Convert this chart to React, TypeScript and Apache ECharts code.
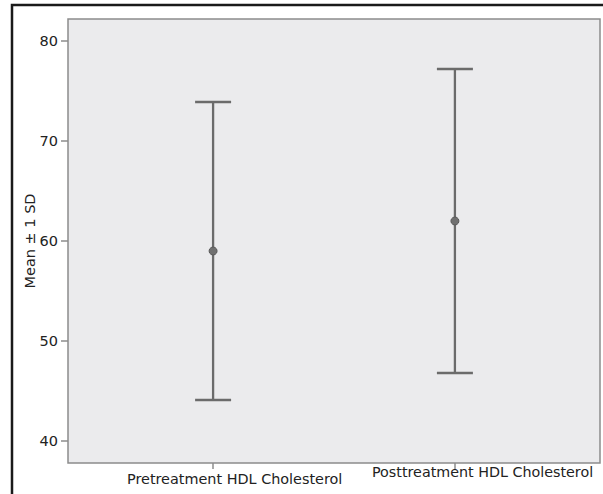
import React, { useEffect, useRef } from "react";
import * as echarts from "echarts";

const categories = ["Pretreatment HDL Cholesterol", "Posttreatment HDL Cholesterol"];
const positions = [1, 2];
const means = [59.0, 62.0];
const lows = [44.1, 46.8];
const highs = [73.9, 77.2];
const yTicks = [40, 50, 60, 70, 80];

const FONT = "DejaVu Sans, Liberation Sans, Arial, sans-serif";

export default function App() {
  const ref = useRef<HTMLDivElement>(null);
  useEffect(() => {
    if (!ref.current) return;
    const chart = echarts.init(ref.current, null, { renderer: "svg" });
    const data = positions.map((p, i) => [p, means[i], lows[i], highs[i]]);
    chart.setOption({
      animation: false,
      backgroundColor: "#ffffff",
      textStyle: { fontFamily: FONT },
      grid: {
        left: 68,
        top: 19,
        right: 3,
        bottom: 31,
        show: true,
        backgroundColor: "#ebebed",
        borderColor: "#8c8c8c",
        borderWidth: 1.5,
      },
      xAxis: {
        type: "value",
        min: 0.4,
        max: 2.6,
        splitLine: { show: false },
        axisLine: { show: false },
        axisLabel: { show: false },
        axisTick: {
          show: true,
          customValues: positions,
          length: 6,
          lineStyle: { color: "#8c8c8c", width: 1.5 },
        },
      },
      yAxis: {
        type: "value",
        min: 37.8,
        max: 82.2,
        name: "Mean ± 1 SD",
        nameLocation: "middle",
        nameGap: 31,
        nameMoveOverlap: false,
        nameTextStyle: { fontSize: 14.5, color: "#222", fontFamily: FONT },
        splitLine: { show: false },
        axisLine: { show: false },
        axisTick: {
          show: true,
          customValues: yTicks,
          length: 7,
          lineStyle: { color: "#8c8c8c", width: 1.5 },
        },
        axisLabel: {
          customValues: yTicks,
          fontSize: 14.5,
          color: "#222",
          margin: 10,
          fontFamily: FONT,
        },
      },
      series: [
        {
          type: "custom",
          data,
          renderItem: (params: any, api: any) => {
            const x = api.value(0);
            const m = api.coord([x, api.value(1)]);
            const lo = api.coord([x, api.value(2)]);
            const hi = api.coord([x, api.value(3)]);
            const half = 18;
            const stroke = { stroke: "#6b6b6b", lineWidth: 2.3 };
            return {
              type: "group",
              children: [
                { type: "line", shape: { x1: lo[0], y1: lo[1], x2: hi[0], y2: hi[1] }, style: stroke },
                { type: "line", shape: { x1: hi[0] - half, y1: hi[1], x2: hi[0] + half, y2: hi[1] }, style: stroke },
                { type: "line", shape: { x1: lo[0] - half, y1: lo[1], x2: lo[0] + half, y2: lo[1] }, style: stroke },
                { type: "circle", shape: { cx: m[0], cy: m[1], r: 4 }, style: { fill: "#707070", stroke: "#5a5a5a", lineWidth: 1 } },
              ],
            };
          },
        },
      ],
      graphic: [
        {
          type: "rect",
          shape: { x: 12, y: 5, width: 620, height: 520 },
          style: { fill: "none", stroke: "#1a1a1a", lineWidth: 2.5 },
          silent: true,
        },
        {
          type: "text",
          left: 127,
          top: 472,
          style: { text: categories[0], fontSize: 14.4, fill: "#222", fontFamily: FONT },
        },
        {
          type: "text",
          left: 372,
          top: 465,
          style: { text: categories[1], fontSize: 14.3, fill: "#222", fontFamily: FONT },
        },
      ],
    });
    return () => chart.dispose();
  }, []);
  return (
    <div
      ref={ref}
      style={{ position: "fixed", left: 0, top: 0, width: 603, height: 494 }}
    />
  );
}
